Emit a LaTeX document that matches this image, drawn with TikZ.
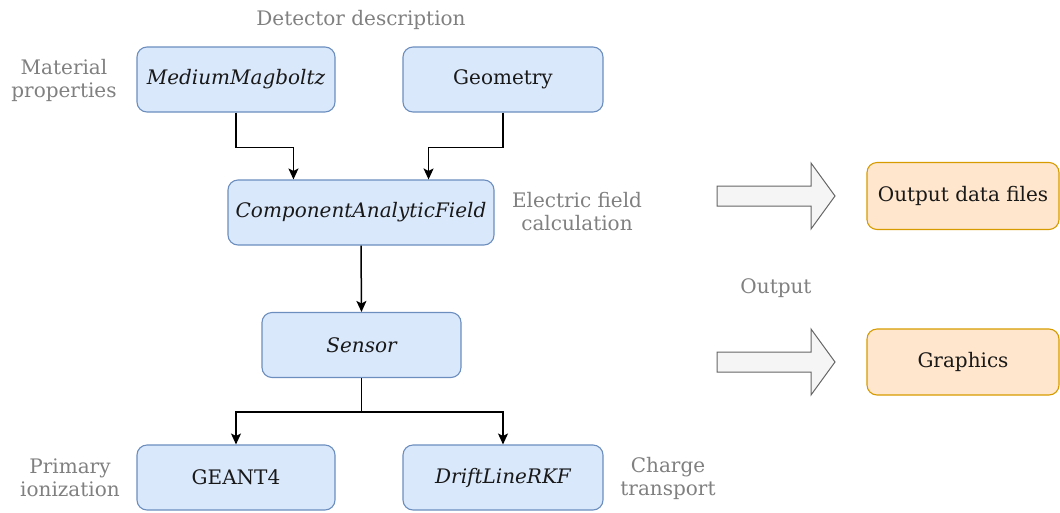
\documentclass[tikz,border=0pt]{standalone}
\usepackage{fontspec}
\setmainfont{DejaVu Serif}
\usetikzlibrary{arrows.meta}
\definecolor{boxblue}{HTML}{DAE8FC}
\definecolor{lineblue}{HTML}{6C8EBF}
\definecolor{boxorange}{HTML}{FFE6CC}
\definecolor{lineorange}{HTML}{D79B00}
\definecolor{arrowfill}{HTML}{F5F5F5}
\definecolor{arrowline}{HTML}{666666}
\definecolor{notegray}{HTML}{808080}

\tikzset{
  module/.style={draw=lineblue, fill=boxblue, rounded corners=10pt, line width=1.1pt,
    minimum height=65pt, inner sep=0pt, text=black!90, font=\fontsize{20}{23}\selectfont},
  outbox/.style={module, draw=lineorange, fill=boxorange},
  note/.style={text=notegray, align=center, font=\fontsize{20}{23}\selectfont},
  flow/.style={->, line width=1.5pt},
  bigarrow/.style={draw=arrowline, fill=arrowfill, line width=1pt}
}

\begin{document}
\begin{tikzpicture}[x=1pt,y=-1pt,>={Stealth[length=11pt,width=10pt,inset=2.5pt]}]
    \useasboundingbox (0,0) rectangle (1060,512);

    % detector description
    \node[module, minimum width=198pt] (mag) at (236,79.5) {\itshape MediumMagboltz};
    \node[module, minimum width=200pt] (geom) at (503,79.5) {Geometry};
    \node[module, minimum width=266pt] (caf) at (361,212.5) {\itshape ComponentAnalyticField};
    \node[module, minimum width=199pt] (sensor) at (361.5,345) {\itshape Sensor};
    \node[module, minimum width=198pt] (geant) at (236,477.5) {GEANT4};
    \node[module, minimum width=200pt] (drift) at (503,477.5) {\itshape DriftLineRKF};

    % output
    \node[outbox, minimum width=192pt, minimum height=67pt] (outdata) at (963,196) {Output data files};
    \node[outbox, minimum width=192pt, minimum height=66pt] (graphics) at (963,362) {Graphics};

    % side notes
    \node[note] (detnote) at (361,20) {Detector description};
    \node[note] (matnote) at (64,80) {Material\\properties};
    \node[note] (efieldnote) at (577,212) {Electric field\\calculation};
    \node[note] (outnote) at (776,288) {Output};
    \node[note] (primnote) at (70,478) {Primary\\ionization};
    \node[note] (chargenote) at (668,478) {Charge\\transport};

    \coordinate (cafinl) at ([xshift=66pt]caf.north west);
    \coordinate (cafinr) at ([xshift=-66pt]caf.north east);

    \draw[flow] (mag.south) -- ++(0,35) -| (cafinl);
    \draw[flow] (geom.south) -- ++(0,35) -| (cafinr);
    \draw[flow] (caf.south) -- (sensor.north);
    \draw[flow] (sensor.south) -- ++(0,34) -| (geant.north);
    \draw[flow] (sensor.south) -- ++(0,34) -| (drift.north);

    \foreach \yc in {196,362}
      \draw[bigarrow] (717,\yc-10) -- (811,\yc-10) -- (811,\yc-33) -- (835,\yc)
        -- (811,\yc+33) -- (811,\yc+10) -- (717,\yc+10) -- cycle;
\end{tikzpicture}
\end{document}
